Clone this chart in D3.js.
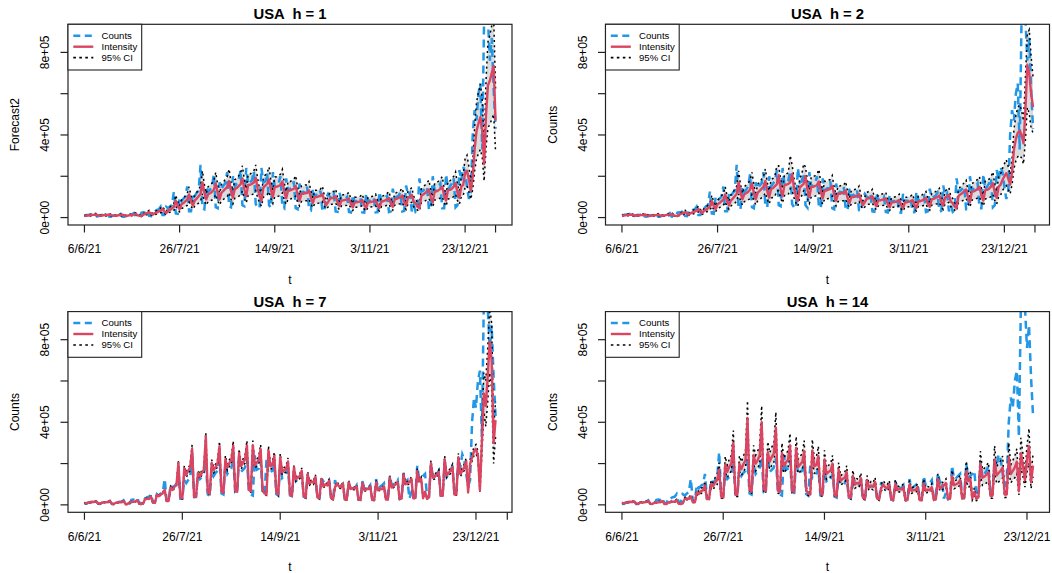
<!DOCTYPE html>
<html>
<head>
<meta charset="utf-8">
<script src="https://cdn.jsdelivr.net/npm/d3@7"></script>
<style>
body { margin: 0; background: #fff; }
text { font-family: "Liberation Sans", Arial, sans-serif; }
</style>
</head>
<body>
<div id="chart"></div>
<script>
// tick labels (index of day since 6/6/21, 1-based)
var tickIdx = [1, 51, 101, 151, 201, 217];
var tickLab = ["6/6/21", "26/7/21", "14/9/21", "3/11/21", "23/12/21", ""];
var yTicks = [0, 2e5, 4e5, 6e5, 8e5];
var yLab = ["0e+00", "", "4e+05", "", "8e+05"];

// observed counts, thousands
var counts = [7,12,13,15,14,17,6, 5,11,12,13,14,19,5, 4,10,11,13,13,18,4, 4,12,14,15,16,22,5,
3,6,24,26,24,34,8, 7,34,30,37,39,52,12, 12,52,45,55,60,126,20, 18,98,80,92,100,150,30,
30,120,105,120,130,255,45, 40,150,125,135,150,210,50, 45,170,140,155,165,220,55, 50,200,150,165,175,230,60,
55,240,160,170,180,225,65, 50,45,240,170,175,215,60, 48,220,150,160,165,200,52, 45,190,130,140,145,175,45,
40,165,115,125,120,150,40, 35,140,100,110,105,130,35, 30,95,115,100,95,115,30, 28,120,85,90,88,100,27,
25,110,75,80,80,95,25, 24,115,75,82,80,95,25, 26,125,80,88,95,105,27, 30,140,95,100,105,120,30,
32,155,110,120,30,60,28, 35,190,125,130,140,150,40, 40,200,130,140,150,165,45, 45,210,135,150,165,190,50,
60,230,180,245,220,150,90, 120,400,520,470,600,650,330, 980,1150,960,760,870,620,430];

// h = 1
var int1 = [10,9,10,11,13,13,15, 11,9,10,11,12,13,15, 11,8,9,10,11,12,14, 10,8,10,12,13,14,17,
12,8,7,14,19,21,26, 19,14,22,25,30,34,41, 29,22,34,38,45,51,81, 57,41,64,70,79,87,112,
79,59,83,92,103,114,170, 120,88,113,118,125,135,165, 119,89,121,129,139,149,177, 128,97,138,143,152,161,189,
137,104,158,159,163,170,192, 141,105,81,145,155,163,184, 134,100,148,149,153,158,175, 126,94,132,131,135,139,153,
110,82,115,115,119,119,131, 95,71,99,99,103,104,114, 82,61,75,91,95,95,103, 74,56,82,83,86,87,92,
66,50,74,74,76,78,85, 61,46,74,74,77,78,85, 61,47,78,79,83,88,95, 68,53,88,91,95,99,107,
76,58,97,102,109,77,70, 53,46,104,112,119,127,136, 98,75,125,127,132,139,149, 107,82,133,134,140,150,166,
120,96,150,158,215,227,185, 131,200,330,420,455,486,430, 260,500,640,663,700,735,470];
var hi1 = [13,12,13,15,17,17,20, 15,12,13,15,16,17,20, 15,11,12,13,15,16,19, 13,11,13,16,17,19,23,
16,11,9,19,25,28,35, 25,19,29,33,40,45,55, 39,29,45,51,60,68,108, 76,55,85,93,105,116,149,
105,78,110,122,137,152,226, 160,117,150,157,166,180,219, 158,118,161,172,185,198,235, 170,129,184,190,202,214,251,
182,138,210,211,217,226,255, 188,140,108,193,206,217,245, 178,133,197,198,203,210,233, 168,125,176,174,180,185,203,
146,109,153,153,158,158,174, 126,94,132,132,137,138,152, 109,81,100,121,126,126,137, 98,74,109,110,114,116,122,
88,67,98,98,101,104,113, 81,61,98,98,102,104,113, 81,63,104,105,110,117,126, 90,70,117,121,126,132,142,
101,77,129,136,145,102,93, 70,61,138,149,158,169,181, 130,100,166,169,176,185,198, 142,109,177,178,186,200,221,
160,128,200,210,286,302,246, 174,266,439,559,605,646,572, 346,665,851,882,931,978,625];
var lo1 = [7,6,7,7,9,9,10, 7,6,7,7,8,9,10, 7,5,6,7,7,8,10, 7,5,7,8,9,10,12,
8,5,5,10,13,14,18, 13,10,15,17,20,23,28, 20,15,23,26,31,35,55, 39,28,44,48,54,59,76,
54,40,56,63,70,78,116, 82,60,77,80,85,92,112, 81,61,82,88,95,101,120, 87,66,94,97,103,109,129,
93,71,107,108,111,116,131, 96,71,55,99,105,111,125, 91,68,101,101,104,107,119, 86,64,90,89,92,95,104,
75,56,78,78,81,81,89, 65,48,67,67,70,71,78, 56,41,51,62,65,65,70, 50,38,56,56,58,59,63,
45,34,50,50,52,53,58, 41,31,50,50,52,53,58, 41,32,53,54,56,60,65, 46,36,60,62,65,67,73,
52,39,66,69,74,52,48, 36,31,71,76,81,86,92, 67,51,85,86,90,95,101, 73,56,90,91,95,102,113,
82,65,102,107,146,154,126, 89,136,224,286,309,330,292, 177,340,435,451,476,500,320];

// h = 2
var int2 = [9,10,11,13,13,15,11, 9,10,11,12,13,15,11, 8,9,10,11,12,14,10, 8,10,12,13,14,17,12,
8,7,14,19,21,26,19, 14,22,25,30,34,41,29, 22,34,38,45,51,81,57, 41,64,70,79,87,112,79,
59,83,92,103,114,170,120, 88,113,118,125,135,165,119, 89,121,129,139,149,177,128, 97,138,143,152,161,205,137,
104,158,159,163,170,210,141, 105,81,145,155,163,200,134, 100,148,149,153,158,175,126, 94,132,131,135,139,153,110,
82,115,115,119,119,131,95, 71,99,99,103,104,114,82, 61,75,91,95,95,103,74, 56,82,83,86,87,92,66,
50,74,74,76,78,85,61, 46,74,74,77,78,85,61, 47,78,79,83,88,95,68, 53,88,91,95,99,107,76,
58,97,102,109,77,70,53, 46,104,112,119,127,136,98, 75,125,127,132,139,149,107, 82,133,134,140,150,166,120,
96,150,158,182,200,215,190, 160,220,328,380,410,420,400, 360,520,740,700,600,535];
var hi2 = [12,13,15,17,17,20, 15,12,13,15,16,17,20, 15,11,12,13,15,16,19, 13,11,13,16,17,19,23,
16,11,9,19,25,28,35, 25,19,29,33,40,45,55, 39,29,45,51,60,68,108, 76,55,85,93,105,116,149,
105,78,110,122,137,152,226, 160,117,150,157,166,180,219, 158,118,161,172,185,198,235, 170,129,184,190,202,250,251,
182,138,210,211,217,300,255, 188,140,108,193,206,260,245, 178,133,197,198,203,210,233, 168,125,176,174,180,185,203,
146,109,153,153,158,158,174, 126,94,132,132,137,138,152, 109,81,100,121,126,126,137, 98,74,109,110,114,116,122,
88,67,98,98,101,104,113, 81,61,98,98,102,104,113, 81,63,104,105,110,117,126, 90,70,117,121,126,132,142,
101,77,129,136,145,102,93, 70,61,138,149,158,169,181, 130,100,166,169,176,185,198, 142,109,177,178,186,200,221,
160,128,200,210, 237,260,280,247,208,286,426,494,533,546,520,468,676,890,910,780,680];
var lo2 = [6,7,7,9,9,10, 7,6,7,7,8,9,10, 7,5,6,7,7,8,10, 7,5,7,8,9,10,12,
8,5,5,10,13,14,18, 13,10,15,17,20,23,28, 20,15,23,26,31,35,55, 39,28,44,48,54,59,76,
54,40,56,63,70,78,116, 82,60,77,80,85,92,112, 81,61,82,88,95,101,120, 87,66,94,97,103,130,129,
93,71,107,108,111,140,131, 96,71,55,99,105,130,125, 91,68,101,101,104,107,119, 86,64,90,89,92,95,104,
75,56,78,78,81,81,89, 65,48,67,67,70,71,78, 56,41,51,62,65,65,70, 50,38,56,56,58,59,63,
45,34,50,50,52,53,58, 41,31,50,50,52,53,58, 41,32,53,54,56,60,65, 46,36,60,62,65,67,73,
52,39,66,69,74,52,48, 36,31,71,76,81,86,92, 67,51,85,86,90,95,101, 73,56,90,91,95,102,113,
82,65,102,107, 131,144,155,137,115,158,236,274,295,302,288,259,374,533,504,432,410];

// h = 7
var int7 = [10,7,12,13,15,14,17, 6,5,11,12,13,14,19, 5,4,10,11,13,13,18, 4,4,12,14,15,16,22,
6,3,7,28,30,28,39, 11,10,48,42,52,55,73, 19,19,83,72,88,96,202, 36,32,176,144,166,180,270,
39,39,156,137,156,169,332, 61,54,203,169,182,203,284, 65,59,221,182,202,215,286, 69,63,250,188,206,219,288,
72,66,288,192,204,216,270, 72,55,50,264,187,193,237, 63,50,231,158,168,173,210, 49,43,181,124,133,138,166,
41,36,149,104,113,108,135, 36,32,126,90,99,95,117, 32,27,86,104,90,86,104, 27,25,108,77,81,79,90,
26,24,105,71,76,76,90, 24,23,109,71,78,76,90, 26,27,131,84,92,100,110, 28,32,147,100,105,110,126,
32,34,163,116,126,32,63, 29,37,200,131,137,147,158, 44,44,220,143,154,165,182, 50,50,231,149,165,182,210,
60,200,230,260,270,240,70, 300,540,480,620,790,700,300, 410];
var hi7 = [12,9,14,15,17,16,19, 8,7,13,14,15,16,21, 7,6,12,13,15,15,20, 6,6,14,16,17,18,24,
8,5,9,30,33,30,42, 13,12,52,46,56,60,79, 21,21,90,78,95,104,218, 39,35,190,156,179,194,292,
42,42,168,148,168,183,350, 66,58,219,183,197,219,307, 70,64,239,197,218,232,309, 75,68,270,203,222,237,311,
78,71,311,207,220,233,292, 78,59,54,285,202,208,256, 68,54,249,171,181,187,227, 53,46,195,134,144,149,179,
44,39,161,112,122,117,146, 39,35,136,97,107,103,126, 35,29,93,112,97,93,112, 29,27,117,83,87,85,97,
28,26,113,77,82,82,97, 26,25,118,77,84,82,97, 28,29,141,91,99,108,119, 30,35,159,108,113,119,136,
35,37,176,125,136,35,68, 31,40,216,141,148,159,171, 48,48,238,154,166,178,197, 54,54,249,161,178,197,227,
65,216,248,281,292,259,76, 360,640,600,760,960,880,380, 500];
var lo7 = [8,5,10,11,13,12,15, 4,3,9,10,11,12,17, 3,2,8,9,11,11,16, 2,2,10,12,13,14,20,
4,1,5,26,27,26,36, 9,8,44,38,48,50,67, 17,17,76,66,81,88,186, 33,29,162,132,153,166,248,
36,36,144,126,144,155,305, 56,50,187,155,167,187,261, 60,54,203,167,186,198,263, 63,58,230,173,190,201,265,
66,61,265,177,188,199,248, 66,51,46,243,172,178,218, 58,46,213,145,155,159,193, 45,40,167,114,122,127,153,
38,33,137,96,104,99,124, 33,29,116,83,91,87,108, 29,25,79,96,83,79,96, 25,23,99,71,75,73,83,
24,22,97,65,70,70,83, 22,21,100,65,72,70,83, 24,25,121,77,85,92,101, 26,29,135,92,97,101,116,
29,31,150,107,116,29,58, 27,34,184,121,126,135,145, 40,40,202,132,142,152,167, 46,46,213,137,152,167,193,
55,184,212,239,248,221,64, 240,450,380,500,640,560,200, 330];

// h = 14
var int14 = [10,7,12,13,15,14,17, 6,5,11,12,13,14,19, 5,4,10,11,13,13,18, 4,4,12,14,15,16,22,
6,4,7,29,31,29,41, 14,13,61,54,67,70,94, 28,28,100,90,110,120,170, 40,36,196,160,184,200,300,
50,50,198,173,198,215,420, 72,64,240,200,216,240,400, 75,68,255,210,233,248,374, 69,63,250,188,206,219,288,
69,63,276,184,196,207,259, 72,55,50,264,187,193,237, 60,48,220,150,160,165,200, 47,41,171,117,126,131,158,
38,34,140,98,106,102,128, 34,30,119,85,94,89,111, 30,26,81,98,85,81,98, 26,24,102,72,77,75,85,
24,23,99,68,72,72,86, 23,22,104,68,74,72,86, 25,26,125,80,88,95,105, 27,30,140,95,100,105,120,
32,34,163,116,126,32,63, 29,37,200,131,137,147,158, 44,44,220,143,154,165,182, 50,50,231,149,165,182,209,
66,250,190,120,220,284,110, 190];
var hi14 = [12,9,15,16,18,17,21, 8,6,13,15,16,17,23, 6,5,12,13,16,16,22, 5,5,15,17,18,19,27,
8,5,9,35,38,35,50, 17,16,74,65,81,84,113, 34,34,120,108,132,144,204, 48,44,235,192,221,240,360,
60,60,238,208,238,258,504, 86,77,288,240,259,288,480, 90,82,306,252,280,298,449, 83,76,300,226,247,263,346,
83,76,331,221,235,248,311, 86,66,60,317,224,232,284, 72,58,264,180,192,198,240, 56,49,205,140,151,157,190,
46,41,168,118,127,122,154, 41,36,143,102,113,107,133, 36,31,97,118,102,97,118, 31,29,122,86,92,90,102,
29,28,119,82,86,86,103, 28,26,125,82,89,86,103, 30,31,150,96,106,114,126, 32,36,168,114,120,126,144,
40,44,212,151,164,42,82, 38,48,260,170,178,191,205, 57,57,286,186,200,215,237, 65,65,300,194,215,237,272,
86,325,247,156,286,370,143, 247];
var lo14 = [8,6,10,11,12,11,14, 5,4,9,10,11,11,16, 4,3,8,9,11,11,15, 3,3,10,11,12,13,18,
5,3,6,24,25,24,34, 11,11,50,44,55,57,77, 23,23,82,74,90,98,139, 33,30,161,131,151,164,246,
41,41,162,142,162,176,344, 59,52,197,164,177,197,328, 62,56,209,172,191,203,307, 57,52,205,154,169,180,236,
57,52,226,151,161,170,212, 59,45,41,216,153,158,194, 49,39,180,123,131,135,164, 39,34,140,96,103,107,130,
31,28,115,80,87,84,105, 28,25,98,70,77,73,91, 25,21,66,80,70,66,80, 21,20,84,59,63,62,70,
20,19,81,56,59,59,71, 19,18,85,56,61,59,71, 21,21,103,66,72,78,86, 22,25,115,78,82,86,98,
24,24,117,84,91,23,45, 21,27,144,94,99,106,114, 32,32,158,103,111,119,131, 36,36,166,107,119,131,150,
48,180,137,86,158,204,79, 137];

var panels = [
  {h: 1, ylab: "Forecast2", fit: int1, lo: lo1, hi: hi1},
  {h: 2, ylab: "Counts", fit: int2, lo: lo2, hi: hi2},
  {h: 7, ylab: "Counts", fit: int7, lo: lo7, hi: hi7},
  {h: 14, ylab: "Counts", fit: int14, lo: lo14, hi: hi14}
];

var blue = "#2297E6", red = "#DB4562", band = "#DCDCDC";
var W = 1052, H = 573;
var pw = 444, ph = 200.7;
var colX = [68, 605.5], rowY = [24.3, 311.6];

var svg = d3.select("#chart").append("svg")
    .attr("width", W).attr("height", H)
    .style("display", "block");
svg.append("rect").attr("width", W).attr("height", H).attr("fill", "#fff");

panels.forEach(function(p, k) {
    var bx = colX[k % 2], by = rowY[Math.floor(k / 2)];
    var n = p.fit.length;
    var obs = counts.slice(p.h - 1, p.h - 1 + n);
    var pad = 0.04 * (n - 1);
    var x = d3.scaleLinear().domain([1 - pad, n + pad]).range([bx, bx + pw]);
    var y = d3.scaleLinear().domain([-36000, 936000]).range([by + ph, by]);
    var g = svg.append("g");

    g.append("clipPath").attr("id", "clip" + k)
        .append("rect").attr("x", bx).attr("y", by).attr("width", pw).attr("height", ph);
    var plot = g.append("g").attr("clip-path", "url(#clip" + k + ")");

    var idx = d3.range(n);
    var area = d3.area()
        .x(function(i) { return x(i + 1); })
        .y0(function(i) { return y(p.lo[i] * 1000); })
        .y1(function(i) { return y(p.hi[i] * 1000); });
    plot.append("path").datum(idx).attr("d", area).attr("fill", band);

    function line(arr) {
        return d3.line().x(function(v, i) { return x(i + 1); })
            .y(function(v) { return y(v * 1000); })(arr);
    }
    plot.append("path").attr("d", line(obs)).attr("fill", "none")
        .attr("stroke", blue).attr("stroke-width", 2.5).attr("stroke-dasharray", "8,5");
    [p.lo, p.hi].forEach(function(arr) {
        plot.append("path").attr("d", line(arr)).attr("fill", "none")
            .attr("stroke", "#000").attr("stroke-width", 1.5).attr("stroke-dasharray", "2,3.2");
    });
    plot.append("path").attr("d", line(p.fit)).attr("fill", "none")
        .attr("stroke", red).attr("stroke-width", 2.4).attr("stroke-linejoin", "round");

    // box
    g.append("rect").attr("x", bx).attr("y", by).attr("width", pw).attr("height", ph)
        .attr("fill", "none").attr("stroke", "#222").attr("stroke-width", 1.2);

    // x axis
    var xa = g.append("g");
    tickIdx.forEach(function(t, i) {
        if (t > x.domain()[1]) return;
        xa.append("line").attr("x1", x(t)).attr("x2", x(t))
            .attr("y1", by + ph).attr("y2", by + ph + 7.5).attr("stroke", "#222").attr("stroke-width", 1.2);
        xa.append("text").attr("x", x(t)).attr("y", by + ph + 28.3)
            .attr("text-anchor", "middle").attr("font-size", 12).text(tickLab[i]);
    });
    // y axis
    yTicks.forEach(function(v, i) {
        g.append("line").attr("x1", bx).attr("x2", bx - 7.5)
            .attr("y1", y(v)).attr("y2", y(v)).attr("stroke", "#222").attr("stroke-width", 1.2);
        if (yLab[i]) {
            g.append("text").attr("transform", "translate(" + (bx - 23) + "," + y(v) + ") rotate(-90)")
                .attr("text-anchor", "middle").attr("dominant-baseline", "central")
                .attr("font-size", 12).text(yLab[i]);
        }
    });

    // titles
    g.append("text").attr("x", bx + pw / 2).attr("y", by - 5)
        .attr("text-anchor", "middle").attr("font-size", 14.8).attr("font-weight", "bold")
        .style("white-space", "pre").text("USA  h = " + p.h);
    g.append("text").attr("x", bx + pw / 2).attr("y", by + ph + 58.5)
        .attr("text-anchor", "middle").attr("font-size", 12).text("t");
    g.append("text").attr("transform", "translate(" + (bx - 53) + "," + (by + ph / 2) + ") rotate(-90)")
        .attr("text-anchor", "middle").attr("dominant-baseline", "central")
        .attr("font-size", 12).text(p.ylab);

    // legend
    var lg = g.append("g").attr("transform", "translate(" + bx + "," + by + ")");
    lg.append("rect").attr("width", 73.7).attr("height", 45.7)
        .attr("fill", "#fff").attr("stroke", "#222").attr("stroke-width", 1.1);
    var items = [
        {t: "Counts", c: blue, d: "7,4.5", w: 2.4},
        {t: "Intensity", c: red, d: null, w: 2.4},
        {t: "95% CI", c: "#000", d: "2.6,3.4", w: 1.7}
    ];
    items.forEach(function(it, i) {
        var yy = 11.4 + i * 11;
        lg.append("line").attr("x1", 5.3).attr("x2", 25.3).attr("y1", yy).attr("y2", yy)
            .attr("stroke", it.c).attr("stroke-width", it.w)
            .attr("stroke-dasharray", it.d);
        lg.append("text").attr("x", 33.5).attr("y", yy).attr("dominant-baseline", "central")
            .attr("font-size", 9.6).text(it.t);
    });
});
</script>
</body>
</html>
